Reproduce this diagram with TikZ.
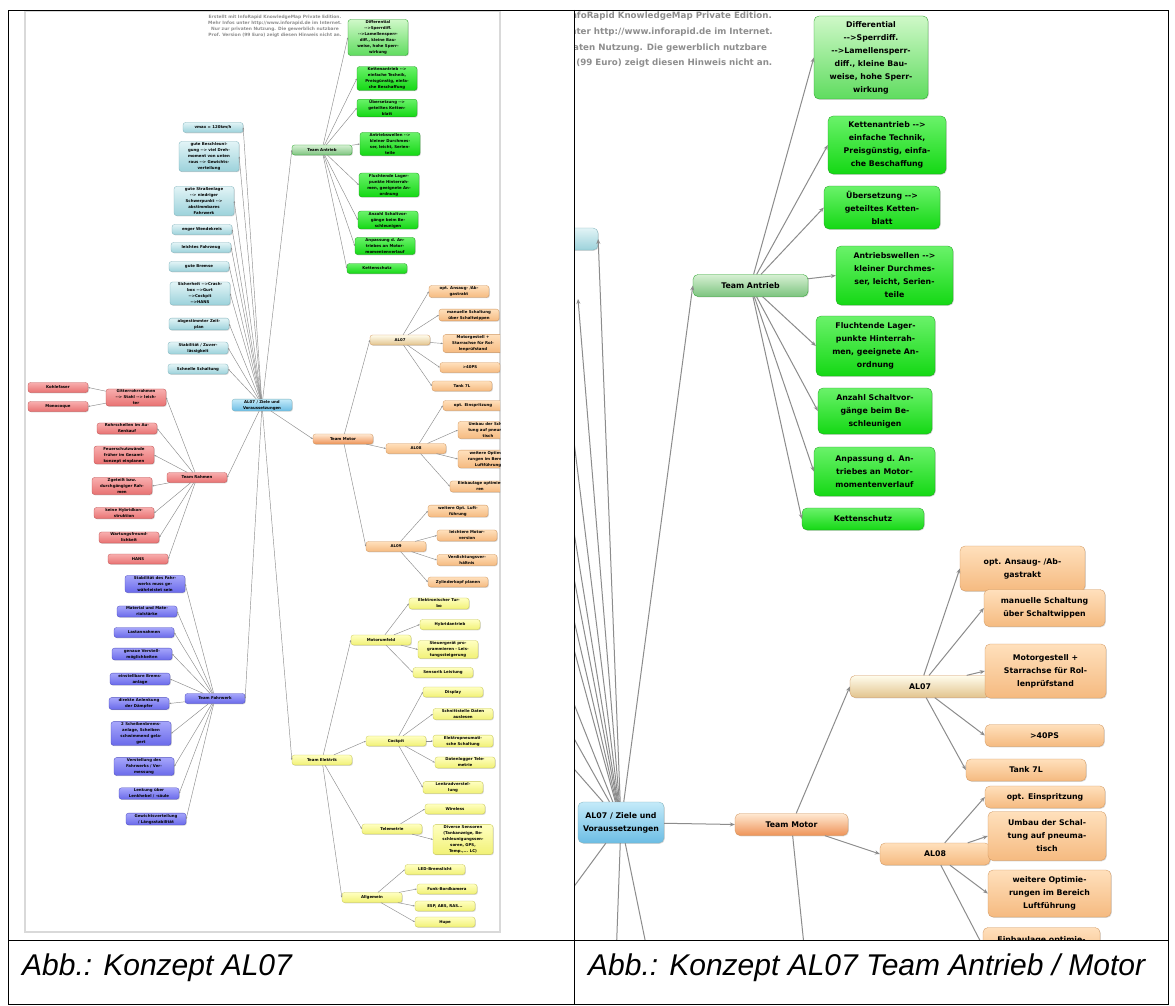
\documentclass[tikz,border=0pt]{standalone}
\usepackage{fontspec}
\setmainfont{Liberation Sans}
\newfontfamily\mapfont{DejaVu Sans}
\usetikzlibrary{calc,shadows,arrows.meta}

\definecolor{cyanTop}{HTML}{E2F4F6}
\definecolor{cyanBot}{HTML}{9CD2DB}
\definecolor{cyanLine}{HTML}{7DB2BC}
\definecolor{rootTop}{HTML}{C4EAF9}
\definecolor{rootBot}{HTML}{6CBDE4}
\definecolor{grnTop}{HTML}{6AF26A}
\definecolor{grnBot}{HTML}{14D814}
\definecolor{grnLine}{HTML}{1E9E1E}
\definecolor{headTop}{HTML}{D6F0D3}
\definecolor{headBot}{HTML}{7DC47F}
\definecolor{paleTop}{HTML}{CFF8C8}
\definecolor{paleBot}{HTML}{5FDC5F}
\definecolor{orgTop}{HTML}{FFE0BC}
\definecolor{orgBot}{HTML}{F5BA80}
\definecolor{orgLine}{HTML}{D0955C}
\definecolor{motTop}{HTML}{FFE9D2}
\definecolor{motBot}{HTML}{EE9358}
\definecolor{alTop}{HTML}{FFFCEC}
\definecolor{alBot}{HTML}{E2C48E}
\definecolor{redTop}{HTML}{F8AEAE}
\definecolor{redBot}{HTML}{E87272}
\definecolor{redLine}{HTML}{C05050}
\definecolor{bluTop}{HTML}{A6A6FB}
\definecolor{bluBot}{HTML}{6A6AEA}
\definecolor{bluLine}{HTML}{4A4AC0}
\definecolor{yelTop}{HTML}{FFFFC0}
\definecolor{yelBot}{HTML}{F1F176}
\definecolor{yelLine}{HTML}{C8C850}
\definecolor{linkGrey}{HTML}{8C8C8C}
\definecolor{noteGrey}{HTML}{8E8E8E}

\newcommand\leaffont{\mapfont\bfseries\fontsize{3.9}{6}\selectfont}
\newcommand\bigfont{\mapfont\bfseries\fontsize{7.8}{13}\selectfont}

\tikzset{
  box/.style={rounded corners=#1, align=center, line width=.3pt,
    drop shadow={shadow xshift=.8pt, shadow yshift=-.8pt, opacity=.3}},
  leaf/.style={box=2.5pt, font=\leaffont, inner sep=1pt, minimum width=60pt, minimum height=10pt},
  bigleaf/.style={box=5pt, font=\bigfont, inner sep=3pt, minimum height=22pt},
  cyanfill/.style={top color=cyanTop, bottom color=cyanBot, draw=cyanLine},
  rootfill/.style={top color=rootTop, bottom color=rootBot, draw=cyanLine},
  grnfill/.style={top color=grnTop, bottom color=grnBot, draw=grnLine},
  headfill/.style={top color=headTop, bottom color=headBot, draw=grnLine},
  palefill/.style={top color=paleTop, bottom color=paleBot, draw=grnLine},
  orgfill/.style={top color=orgTop, bottom color=orgBot, draw=orgLine},
  motfill/.style={top color=motTop, bottom color=motBot, draw=orgLine},
  alfill/.style={top color=alTop, bottom color=alBot, draw=orgLine},
  redfill/.style={top color=redTop, bottom color=redBot, draw=redLine},
  blufill/.style={top color=bluTop, bottom color=bluBot, draw=bluLine},
  yelfill/.style={top color=yelTop, bottom color=yelBot, draw=yelLine},
  link/.style={draw=linkGrey, line width=.45pt, -{Stealth[length=2pt,width=1.6pt]}},
  biglink/.style={draw=linkGrey, line width=1pt, -{Stealth[length=5pt,width=4pt]}},
  note/.style={text=noteGrey, align=center, inner sep=0pt},
  caption/.style={font=\itshape\fontsize{30}{32}\selectfont, anchor=base west, inner sep=0pt}
}

\begin{document}
\begin{tikzpicture}[x=1pt,y=-1pt]
\useasboundingbox (0,0) rectangle (1175,1006);
\fill[white] (0,0) rectangle (1175,1006);

% Left picture: whole map
\draw[black!15, line width=1.5pt] (25,11) rectangle (500,932);
\begin{scope}
\clip (25,11) rectangle (500,932);
\node[note, font=\mapfont\bfseries\fontsize{4.4}{6}\selectfont] (note) at (275,26)
  {Erstellt mit InfoRapid KnowledgeMap Private Edition.\\Mehr Infos unter http://www.inforapid.de im Internet.\\Nur zur privaten Nutzung. Die gewerblich nutzbare\\Prof. Version (99 Euro) zeigt diesen Hinweis nicht an.};

% Root
\node[leaf, rootfill] (ctr) at (262,405) {AL07 / Ziele und\\Voraussetzungen};

% Goals
\node[leaf, cyanfill] (c1) at (213,127.5) {vmax = 120km/h};
\node[leaf, cyanfill] (c2) at (209,156.5) {gute Beschleuni-\\gung --> viel Dreh-\\moment von unten\\raus --> Gewichts-\\verteilung};
\node[leaf, cyanfill] (c3) at (204,201) {gute Straßenlage\\--> niedriger\\Schwerpunkt -->\\abstimmbares\\Fahrwerk};
\node[leaf, cyanfill] (c4) at (202,229.5) {enger Wendekreis};
\node[leaf, cyanfill] (c5) at (201,247.5) {leichtes Fahrzeug};
\node[leaf, cyanfill] (c6) at (199,266.5) {gute Bremse};
\node[leaf, cyanfill] (c7) at (200,293.5) {Sicherheit -->Crash-\\box -->Gurt\\-->Cockpit\\-->HANS};
\node[leaf, cyanfill] (c8) at (199,324) {abgestimmter Zeit-\\plan};
\node[leaf, cyanfill] (c9) at (198,348) {Stabilität / Zuver-\\lässigkeit};
\node[leaf, cyanfill] (c10) at (198,369) {Schnelle Schaltung};

% Team Antrieb
\node[leaf, headfill] (ta) at (322,150) {Team Antrieb};
\node[leaf, palefill] (g1) at (378,37.5) {Differential\\-->Sperrdiff.\\-->Lamellensperr-\\diff., kleine Bau-\\weise, hohe Sperr-\\wirkung};
\node[leaf, grnfill] (g2) at (387,78.5) {Kettenantrieb -->\\einfache Technik,\\Preisgünstig, einfa-\\che Beschaffung};
\node[leaf, grnfill] (g3) at (387,108) {Übersetzung -->\\geteiltes Ketten-\\blatt};
\node[leaf, grnfill] (g4) at (390,144) {Antriebswellen -->\\kleiner Durchmes-\\ser, leicht, Serien-\\teile};
\node[leaf, grnfill] (g5) at (389,185) {Fluchtende Lager-\\punkte Hinterrah-\\men, geeignete An-\\ordnung};
\node[leaf, grnfill] (g6) at (388,220) {Anzahl Schaltvor-\\gänge beim Be-\\schleunigen};
\node[leaf, grnfill] (g7) at (385,246) {Anpassung d. An-\\triebes an Motor-\\momentenverlauf};
\node[leaf, grnfill] (g8) at (377,268.5) {Kettenschutz};

% Team Motor
\node[leaf, motfill] (tm) at (343,439) {Team Motor};
\node[leaf, alfill] (o7) at (400,340) {AL07};
\node[leaf, orgfill] (o7a) at (459,291.5) {opt. Ansaug- /Ab-\\gastrakt};
\node[leaf, orgfill] (o7b) at (469,315) {manuelle Schaltung\\über Schaltwippen};
\node[leaf, orgfill] (o7c) at (473,343.5) {Motorgestell +\\Starrachse für Rol-\\lenprüfstand};
\node[leaf, orgfill] (o7d) at (470,367.5) {>40PS};
\node[leaf, orgfill] (o7e) at (462,386) {Tank 7L};
\node[leaf, orgfill] (o8) at (416,448.5) {AL08};
\node[leaf, orgfill] (o8a) at (473,405.5) {opt. Einspritzung};
\node[leaf, orgfill] (o8b) at (488,430) {Umbau der Schal-\\tung auf pneuma-\\tisch};
\node[leaf, orgfill] (o8c) at (488,459) {weitere Optimie-\\rungen im Bereich\\Luftführung};
\node[leaf, orgfill] (o8d) at (480,486.5) {Einbaulage optimie-\\ren};
\node[leaf, orgfill] (o9) at (396,546.5) {AL09};
\node[leaf, orgfill] (o9a) at (458,511) {weitere Opt. Luft-\\führung};
\node[leaf, orgfill] (o9b) at (467,535.5) {leichtere Motor-\\version};
\node[leaf, orgfill] (o9c) at (467,560) {Verdichtungsver-\\hältnis};
\node[leaf, orgfill] (o9d) at (458,582) {Zylinderkopf planen};

% Team Elektrik
\node[leaf, yelfill] (te) at (322,760) {Team Elektrik};
\node[leaf, yelfill] (y1) at (381,640) {Motorumfeld};
\node[leaf, yelfill] (y1a) at (439,603.5) {Elektronischer Tur-\\bo};
\node[leaf, yelfill] (y1b) at (450,624.5) {Hybridantrieb};
\node[leaf, yelfill] (y1c) at (448,649.5) {Steuergerät pro-\\grammieren - Leis-\\tungssteigerung};
\node[leaf, yelfill] (y1d) at (443,672.5) {Sensorik Leistung};
\node[leaf, yelfill] (y2) at (396,741) {Cockpit};
\node[leaf, yelfill] (y2a) at (453,692) {Display};
\node[leaf, yelfill] (y2b) at (463,714) {Schnittstelle Daten\\auslesen};
\node[leaf, yelfill] (y2c) at (463,741) {Elektropneumati-\\sche Schaltung};
\node[leaf, yelfill] (y2d) at (465,762.5) {Datenlogger Tele-\\metrie};
\node[leaf, yelfill] (y2e) at (453,787.5) {Lenkradverstel-\\lung};
\node[leaf, yelfill] (y3) at (392,829) {Telemetrie};
\node[leaf, yelfill] (y3a) at (455,809) {Wireless};
\node[leaf, yelfill] (y3b) at (463,839.5) {Diverse Sensoren\\(Tankanzeige, Be-\\schleunigungssen-\\soren, GPS,\\Temp.,... LC)};
\node[leaf, yelfill] (y4) at (372,897.5) {Allgemein};
\node[leaf, yelfill] (y4a) at (435,869.5) {LED-Bremslicht};
\node[leaf, yelfill] (y4b) at (447,889) {Funk-Bordkamera};
\node[leaf, yelfill] (y4c) at (445,906) {ESP, ABS, RAS...};
\node[leaf, yelfill] (y4d) at (445,922) {Hupe};

% Team Rahmen
\node[leaf, redfill] (tr) at (197,477.5) {Team Rahmen};
\node[leaf, redfill] (r1) at (136,397.5) {Gitterrohrrahmen\\--> Stahl --> leich-\\ter};
\node[leaf, redfill] (r1a) at (58,387.5) {Kohlefaser};
\node[leaf, redfill] (r1b) at (58,406.5) {Monocoque};
\node[leaf, redfill] (r2) at (127,428.5) {Rohrschellen im Au-\\ßenkauf};
\node[leaf, redfill] (r3) at (124,455) {Feuerschutzwände\\früher im Gesamt-\\konzept einplanen};
\node[leaf, redfill] (r4) at (122,486) {Zgeteilt bzw.\\durchgängiger Rah-\\men};
\node[leaf, redfill] (r5) at (124,513) {keine Hybridkon-\\struktion};
\node[leaf, redfill] (r6) at (129,537.5) {Wartungsfreund-\\lichkeit};
\node[leaf, redfill] (r7) at (138,559) {HANS};

% Team Fahrwerk
\node[leaf, blufill] (tf) at (215,698.5) {Team Fahrwerk};
\node[leaf, blufill] (b1) at (155,584) {Stabilität des Fahr-\\werks muss ge-\\währleistet sein};
\node[leaf, blufill] (b2) at (147,611.5) {Material und Mate-\\rialstärke};
\node[leaf, blufill] (b3) at (144,632.5) {Lastannahmen};
\node[leaf, blufill] (b4) at (142,654) {genaue Verstell-\\möglichkeiten};
\node[leaf, blufill] (b5) at (140,679) {einstellbare Brems-\\anlage};
\node[leaf, blufill] (b6) at (139,703.5) {direkte Anlenkung\\der Dämpfer};
\node[leaf, blufill] (b7) at (141,733.5) {2 Scheibenbrems-\\anlage, Scheiben\\schwimmend gela-\\gert};
\node[leaf, blufill] (b8) at (144,766.5) {Verstellung des\\Fahrwerks / Ver-\\messung};
\node[leaf, blufill] (b9) at (149,793.5) {Lenkung über\\Lenkhebel / -säule};
\node[leaf, blufill] (b10) at (156,819) {Gewichtsverteilung\\/ Längsstabilität};

% connectors
\foreach \c in {c1,c2,c3,c4,c5,c6,c7,c8,c9,c10,tr,tf}
  \draw[link] (ctr) -- (\c.east);
\foreach \c in {ta,tm,te}
  \draw[link] (ctr) -- (\c.west);
\foreach \c in {g1,g2,g3,g4,g5,g6,g7,g8}
  \draw[link] (ta) -- (\c.west);
\foreach \c in {o7,o8,o9}
  \draw[link] (tm) -- (\c.west);
\foreach \c in {o7a,o7b,o7c,o7d,o7e}
  \draw[link] (o7) -- (\c.west);
\foreach \c in {o8a,o8b,o8c,o8d}
  \draw[link] (o8) -- (\c.west);
\foreach \c in {o9a,o9b,o9c,o9d}
  \draw[link] (o9) -- (\c.west);
\foreach \c in {y1,y2,y3,y4}
  \draw[link] (te) -- (\c.west);
\foreach \c in {y1a,y1b,y1c,y1d}
  \draw[link] (y1) -- (\c.west);
\foreach \c in {y2a,y2b,y2c,y2d,y2e}
  \draw[link] (y2) -- (\c.west);
\foreach \c in {y3a,y3b}
  \draw[link] (y3) -- (\c.west);
\foreach \c in {y4a,y4b,y4c,y4d}
  \draw[link] (y4) -- (\c.west);
\foreach \c in {r1,r2,r3,r4,r5,r6,r7}
  \draw[link] (tr) -- (\c.east);
\foreach \c in {r1a,r1b}
  \draw[link] (r1) -- (\c.east);
\foreach \c in {b1,b2,b3,b4,b5,b6,b7,b8,b9,b10}
  \draw[link] (tf) -- (\c.east);
\end{scope}

% Right picture: detail Antrieb / Motor
\begin{scope}
\clip (575,11) rectangle (1168,940);
\node[note, font=\mapfont\bfseries\fontsize{8.7}{15.7}\selectfont, anchor=north east] (rnote) at (773,12)
  {Erstellt mit InfoRapid KnowledgeMap Private Edition.\\Mehr Infos unter http://www.inforapid.de im Internet.\\Nur zur privaten Nutzung. Die gewerblich nutzbare\\Prof. Version (99 Euro) zeigt diesen Hinweis nicht an.};

\node[bigleaf, rootfill, minimum width=86pt, minimum height=41pt] (rctr) at (621,822.5) {AL07 / Ziele und\\Voraussetzungen};
\node[bigleaf, cyanfill, minimum width=126pt] (rc1) at (535,239) {vmax = 120km/h};
% goals and teams outside the cut
\coordinate (rc2) at (578,299);
\coordinate (rc3) at (568,393);
\coordinate (rc4) at (561,452);
\coordinate (rc5) at (557,490);
\coordinate (rc6) at (553,530);
\coordinate (rc7) at (557,587);
\coordinate (rc8) at (553,651);
\coordinate (rc9) at (553,701);
\coordinate (rc10) at (553,745);
\coordinate (rtr) at (520,960);
\coordinate (rtf) at (600,1400);
\coordinate (rte) at (760,1500);
\coordinate (ro9) at (820,1100);

% Team Antrieb
\node[bigleaf, headfill, minimum width=115pt] (rta) at (750.5,285.5) {Team Antrieb};
\node[bigleaf, palefill, minimum width=114pt, minimum height=83pt] (rg1) at (871,57.5) {Differential\\-->Sperrdiff.\\-->Lamellensperr-\\diff., kleine Bau-\\weise, hohe Sperr-\\wirkung};
\node[bigleaf, grnfill, minimum width=118pt, minimum height=58pt] (rg2) at (887,145) {Kettenantrieb -->\\einfache Technik,\\Preisgünstig, einfa-\\che Beschaffung};
\node[bigleaf, grnfill, minimum width=116pt, minimum height=43pt] (rg3) at (882,207.5) {Übersetzung -->\\geteiltes Ketten-\\blatt};
\node[bigleaf, grnfill, minimum width=117pt, minimum height=59pt] (rg4) at (894.5,275.5) {Antriebswellen -->\\kleiner Durchmes-\\ser, leicht, Serien-\\teile};
\node[bigleaf, grnfill, minimum width=119pt, minimum height=60pt] (rg5) at (875.5,346) {Fluchtende Lager-\\punkte Hinterrah-\\men, geeignete An-\\ordnung};
\node[bigleaf, grnfill, minimum width=114pt, minimum height=46pt] (rg6) at (875,411) {Anzahl Schaltvor-\\gänge beim Be-\\schleunigen};
\node[bigleaf, grnfill, minimum width=121pt, minimum height=49pt] (rg7) at (874.5,471.5) {Anpassung d. An-\\triebes an Motor-\\momentenverlauf};
\node[bigleaf, grnfill, minimum width=122pt] (rg8) at (863,519) {Kettenschutz};

% Team Motor
\node[bigleaf, motfill, minimum width=113pt] (rtm) at (791.5,824.5) {Team Motor};
\node[bigleaf, alfill, minimum width=140pt] (ro7) at (920,686.5) {AL07};
\node[bigleaf, orgfill, minimum width=125pt, minimum height=45pt] (ro7a) at (1022.5,568.5) {opt. Ansaug- /Ab-\\gastrakt};
\node[bigleaf, orgfill, minimum width=121pt, minimum height=37pt] (ro7b) at (1044.5,608) {manuelle Schaltung\\über Schaltwippen};
\node[bigleaf, orgfill, minimum width=121pt, minimum height=54pt] (ro7c) at (1045.5,671) {Motorgestell +\\Starrachse für Rol-\\lenprüfstand};
\node[bigleaf, orgfill, minimum width=119pt] (ro7d) at (1044.5,735.5) {>40PS};
\node[bigleaf, orgfill, minimum width=120pt] (ro7e) at (1026,770) {Tank 7L};
\node[bigleaf, orgfill, minimum width=110pt] (ro8) at (935,854) {AL08};
\node[bigleaf, orgfill, minimum width=120pt] (ro8a) at (1045,797) {opt. Einspritzung};
\node[bigleaf, orgfill, minimum width=118pt, minimum height=49pt] (ro8b) at (1047,836) {Umbau der Schal-\\tung auf pneuma-\\tisch};
\node[bigleaf, orgfill, minimum width=123pt, minimum height=47pt] (ro8c) at (1049.5,893.5) {weitere Optimie-\\rungen im Bereich\\Luftführung};
\node[bigleaf, orgfill, minimum width=117pt, minimum height=37pt] (ro8d) at (1041.5,946) {Einbaulage optimie-\\\phantom{ren}};

% connectors
\draw[biglink] (rctr) -- (rc1.east);
\foreach \c in {rc2,rc3,rc4,rc5,rc6,rc7,rc8,rc9,rc10,rtr,rtf,rte}
  \draw[biglink] (rctr) -- (\c);
\draw[biglink] (rctr) -- (rta.west);
\draw[biglink] (rctr) -- (rtm.west);
\foreach \c in {rg1,rg2,rg3,rg4,rg5,rg6,rg7,rg8}
  \draw[biglink] (rta) -- (\c.west);
\draw[biglink] (rtm) -- (ro7.west);
\draw[biglink] (rtm) -- (ro8.west);
\draw[biglink] (rtm) -- (ro9);
\foreach \c in {ro7a,ro7b,ro7c,ro7d,ro7e}
  \draw[biglink] (ro7) -- (\c.west);
\foreach \c in {ro8a,ro8b,ro8c,ro8d}
  \draw[biglink] (ro8) -- (\c.west);
\end{scope}

% Table frame and captions
\draw[line width=.8pt] (8,10) rectangle (1168,1004);
\draw[line width=.8pt] (574,10) -- (574,1004);
\draw[line width=.8pt] (8,940) -- (1168,940);
\node[caption] (capl) at (22,975) {Abb.: Konzept AL07};
\node[caption] (capr) at (588,975) {Abb.: Konzept AL07 Team Antrieb / Motor};
\end{tikzpicture}
\end{document}
